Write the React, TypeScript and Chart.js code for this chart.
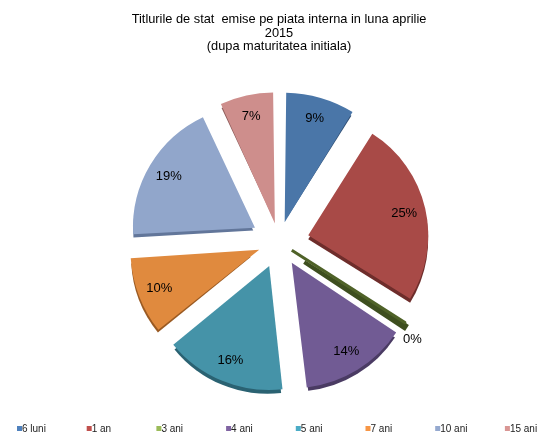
import { useEffect, useRef } from "react";
import { Chart, registerables } from "chart.js";
Chart.register(...registerables);

const categories = ["6 luni", "1 an", "3 ani", "4 ani", "5 ani", "7 ani", "10 ani", "15 ani"];
const shares = [9, 25, 0.4, 14, 16, 10, 19, 7];
const titleLines = [
  "Titlurile de stat  emise pe piata interna in luna aprilie",
  "2015",
  "(dupa maturitatea initiala)",
];
const sliceColors = ["#4A76A8", "#A84A47", "#8AAA4E", "#715B94", "#4593A8", "#E08A3E", "#91A6CB", "#CE8E8C"];
const depthColors = ["#2F4E73", "#6E2D2B", "#3E4F1F", "#4A3B63", "#2A6272", "#9A5A22", "#62769A", "#8E5C5A"];
const legendColors = ["#4F81BD", "#C0504D", "#9BBB59", "#8064A2", "#4BACC6", "#F79646", "#95A9CF", "#D99694"];
const borderColors = ["#4A76A8", "#A84A47", "#4F6228", "#715B94", "#4593A8", "#E08A3E", "#91A6CB", "#CE8E8C"];

const FONT = "'Liberation Sans', Arial, sans-serif";
const EXPLODE = 30;
const RADIUS = 120;
const DEPTH = 4;

export default function App() {
  const ref = useRef<HTMLCanvasElement>(null);
  useEffect(() => {
    const canvas = ref.current!;
    const total = shares.reduce((a, b) => a + b, 0);
    // Chart.js translates arcs by offset/4*(1+fix); compute offset giving uniform explode distance
    const offsets = shares.map((v) => {
      const circ = (v / total) * Math.PI * 2;
      const fix = 1 - Math.sin(Math.min(Math.PI, circ));
      return (4 * EXPLODE) / (1 + fix);
    });

    const depthPlugin = {
      id: "depth",
      beforeDatasetsDraw(chart: any) {
        const ctx = chart.ctx;
        const meta = chart.getDatasetMeta(0);
        meta.data.forEach((el: any, i: number) => {
          const { x, y, startAngle, endAngle, outerRadius } = el;
          const mid = (startAngle + endAngle) / 2;
          const cx = x + Math.cos(mid) * EXPLODE;
          const cy = y + Math.sin(mid) * EXPLODE + DEPTH;
          ctx.save();
          ctx.beginPath();
          ctx.moveTo(cx, cy);
          ctx.arc(cx, cy, outerRadius, startAngle, endAngle);
          ctx.closePath();
          ctx.fillStyle = depthColors[i];
          ctx.fill();
          if (endAngle - startAngle < 0.05) {
            ctx.strokeStyle = depthColors[i];
            ctx.lineWidth = 4;
            ctx.stroke();
          }
          ctx.restore();
        });
      },
    };

    const textPlugin = {
      id: "texts",
      afterDraw(chart: any) {
        const ctx = chart.ctx;
        ctx.save();
        // title
        ctx.fillStyle = "#000";
        ctx.font = `12.8px ${FONT}`;
        ctx.textAlign = "center";
        ctx.textBaseline = "middle";
        const tys = [19, 33, 46];
        titleLines.forEach((t, i) => ctx.fillText(t, 279, tys[i]));
        // labels
        const meta = chart.getDatasetMeta(0);
        meta.data.forEach((el: any, i: number) => {
          const { x, y, startAngle, endAngle, outerRadius } = el;
          let mid = (startAngle + endAngle) / 2;
          const pct = Math.round((shares[i] / total) * 100);
          let d = EXPLODE + outerRadius * 0.82;
          if (endAngle - startAngle < 0.1) {
            d = EXPLODE + outerRadius + 15;
            mid += 0.06;
          }
          ctx.fillStyle = "#000";
          ctx.font = `13px ${FONT}`;
          ctx.fillText(pct + "%", x + Math.cos(mid) * d, y + Math.sin(mid) * d);
        });
        // legend
        ctx.font = `10px ${FONT}`;
        ctx.textAlign = "left";
        ctx.textBaseline = "middle";
        categories.forEach((c, i) => {
          const lx = 17 + i * 69.7;
          ctx.fillStyle = legendColors[i];
          ctx.fillRect(lx, 426, 5, 5);
          ctx.fillStyle = "#222";
          ctx.fillText(c, lx + 5, 429);
        });
        ctx.restore();
      },
    };

    const chart = new Chart(canvas, {
      type: "pie",
      data: {
        labels: categories,
        datasets: [
          {
            data: shares,
            backgroundColor: sliceColors,
            borderColor: borderColors,
            borderWidth: shares.map((v) => (v / total < 0.01 ? 3 : 0)),
            offset: offsets,
            hoverOffset: 0,
          },
        ],
      },
      options: {
        responsive: false,
        animation: false,
        radius: RADIUS,
        layout: { padding: { left: 18, right: 0, top: 50, bottom: 0 } },
        plugins: {
          legend: { display: false },
          title: { display: false },
          tooltip: { enabled: false },
        },
      } as any,
      plugins: [depthPlugin, textPlugin],
    });
    return () => chart.destroy();
  }, []);
  return (
    <div style={{ position: "fixed", left: 0, top: 0, width: 540, height: 434, background: "#fff" }}>
      <canvas ref={ref} width={540} height={434} />
    </div>
  );
}
